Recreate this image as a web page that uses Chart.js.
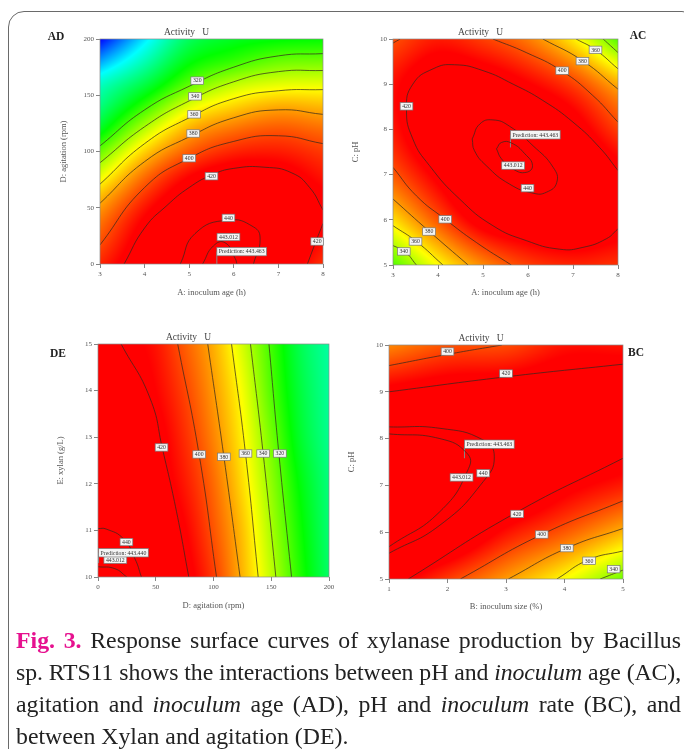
<!DOCTYPE html>
<html><head><meta charset="utf-8">
<style>
html,body{margin:0;padding:0;background:#fff;width:684px;height:749px;overflow:hidden;position:relative;font-family:"Liberation Serif",serif}
#frame{position:absolute;left:8px;top:11px;width:690px;height:770px;border:1.2px solid #6a6a6a;border-radius:16px;box-sizing:border-box}
canvas{position:absolute;filter:blur(.45px)}
.tag{position:absolute;font:bold 11.5px "Liberation Serif",serif;color:#222;transform:translate(-50%,-50%);filter:blur(.3px)}
#cap{position:absolute;left:16px;top:623.5px;width:665px;font-size:23.8px;line-height:32px;color:#222}
#cap div{text-align:justify;text-align-last:justify;white-space:nowrap;filter:blur(.25px)}
#cap div.last{text-align-last:left}
#cap b{color:#e6118f}
</style></head><body>
<div id="frame"></div>
<div id="cap">
<div><b>Fig. 3.</b> Response surface curves of xylanase production by Bacillus</div>
<div style="letter-spacing:-.1px">sp. RTS11 shows the interactions between pH and <i>inoculum</i> age (AC),</div>
<div>agitation and <i>inoculum</i> age (AD), pH and <i>inoculum</i> rate (BC), and</div>
<div class="last">between Xylan and agitation (DE).</div>
</div>
<script src="https://cdn.jsdelivr.net/npm/chart.js@4"></script>
<script>
/* ---------- AD ---------- */
const adX=[3,4,5,6,7,8];
const adY=[0,20,40,60,80,100,120,140,160,180,200];
const adValues=[
[408,428,441,442,428,405],
[398,424,440,443,433,413],
[388,417,436,440,433,421],
[373,405,427,436,429,418],
[351,389,414,424,422,411],
[326,368,395,408,410,403],
[298,343,376,390,396,391],
[278,316,352,368,377,374],
[262,290,324,344,352,353],
[232,266,302,316,327,329],
[200,245,285,298,303,305]];
const adContours=[
[[3,105],[4,137],[5,158],[6,175],[7,185],[8,187]],
[[3,90],[4,122],[5,145],[6,162],[7,171],[8,172]],
[[3,71],[4,107],[5,130],[6,147],[7,154],[8,155]],
[[3,54],[4,91],[5,113],[6,130],[7,137],[8,133]],
[[3,17],[4,68],[5,94],[6,109],[7,114],[8,107]],
[[3.54,0],[4,32],[4.5,52],[5,68],[5.5,79],[6,85],[6.7,86],[7.3,81],[7.7,68],[8,48]],
[[7.65,0],[7.85,21],[8,36]],
[[4.8,0],[5.13,27],[5.86,39],[6.44,33],[6.59,22],[6.44,0]],
[[5.3,0],[5.54,16],[5.8,19],[6.03,5],[6.07,0]]];
const adLabels=[[5.18,163,"320"],[5.13,149,"340"],[5.11,133,"360"],[5.09,116,"380"],[5,94,"400"],[5.5,78,"420"],[5.88,41,"440"],[5.88,24,"443.012"],[7.87,20,"420"]];
const adPrediction=[5.62,0,11,"Prediction: 443.463"];
/* ---------- AC ---------- */
const acX=[3,4,5,6,7,8];
const acY=[5,6,7,8,9,10];
const acValues=[
[322,358,385,402,408,405],
[365,397,423,430,432,423],
[396,420,440,441,434,421],
[411,434,441,437,424,402],
[413,429,427,417,402,377],
[398,410,402,388,362,322]];
const acContours=[
[[3,5.43],[3.26,5.3],[3.52,5]],
[[3,5.87],[3.52,5.52],[4.11,5]],
[[3,6.46],[3.81,5.74],[4.67,5]],
[[3,7.16],[3.52,6.53],[4.15,6.02],[4.85,5.5],[5.63,5]],
[[8,5.8],[7.74,5.58],[7.22,5.39],[6.7,5.35],[5.96,5.54],[5.22,5.87],[4.48,6.46],[3.81,7.2],[3.44,7.79],[3.3,8.45],[3.44,9],[3.89,9.34],[4.37,9.43],[5,9.3],[5.67,9],[6.33,8.64],[7,8.16],[7.59,7.6],[8,7.09]],
[[5.22,10],[5.96,9.7],[6.74,9.3],[7.44,8.75],[8,8.16]],
[[6.33,10],[7.21,9.52],[8,8.89]],
[[7.07,10],[7.5,9.76],[8,9.34]],
[[7.67,10],[8,9.7]],
[[3,9.91],[3.16,10]],
[[4.76,7.79],[4.93,8.12],[5.22,8.21],[5.59,8.07],[6.11,7.64],[6.56,7.16],[6.64,6.83],[6.41,6.61],[6.11,6.59],[5.59,6.79],[5.07,7.2],[4.81,7.53],[4.76,7.79]],
[[5.3,7.57],[5.41,7.71],[5.63,7.7],[5.93,7.46],[6.1,7.2],[5.96,7.05],[5.67,7.12],[5.41,7.35],[5.3,7.57]]];
const acLabels=[[3.24,5.3,"340"],[3.5,5.52,"360"],[3.8,5.74,"380"],[4.16,6.01,"400"],[3.3,8.51,"420"],[7.5,9.76,"360"],[7.21,9.51,"380"],[6.76,9.3,"400"],[5.67,7.2,"443.012"],[5.99,6.7,"440"]];
const acPrediction=[5.61,7.6,7.88,"Prediction: 443.463"];
/* ---------- DE ---------- */
const deX=[0,25,50,75,100,125,150,175,200];
const deY=[10,11,12,13,14,15];
const deValues=[
[444,443,434,422,403,375,345,312,283],
[440,437,429,417,397,372,340,308,280],
[434,430,423,411,392,366,335,303,278],
[431,427,421,406,386,361,329,296,274],
[429,425,416,401,381,356,322,292,272],
[425,419,412,395,376,349,318,288,270]];
const deContours=[
[[0,11.04],[7,11.03],[22,10.82],[32,10.39],[37.6,10]],
[[0,10.22],[14.5,10.18],[25,10]],
[[20,15],[45,13.84],[56,12.73],[68,11.4],[78.6,10]],
[[69,15],[87.6,12.62],[102.6,10]],
[[95,15],[109,12.58],[123,10]],
[[115.6,15],[127.7,12.65],[138.7,10]],
[[132,15],[143,12.65],[154,10]],
[[148,15],[156.6,12.65],[167.6,10]]];
const deLabels=[[55,12.78,"420"],[87.6,12.63,"400"],[109,12.58,"380"],[127.7,12.65,"360"],[143,12.65,"340"],[157.5,12.65,"320"],[24.6,10.75,"440"],[15,10.37,"443.012"]];
const dePrediction=[0.5,10.3,10.52,"Prediction: 443.440"];
/* ---------- BC ---------- */
const bcX=[1,2,3,4,5];
const bcY=[5,6,7,8,9,10];
const bcValues=[
[425,403,381,358,328],
[444,436,413,396,375],
[445,446,437,421,410],
[443,442,438,434,427],
[420,425,426,428,428],
[385,397,399,412,412]];
const bcContours=[
[[1,9.56],[2,9.8],[2.93,10]],
[[1,9],[3,9.32],[5,9.59]],
[[1,8.25],[1.87,8.22],[2.61,7.97],[2.8,7.61],[2.61,7.08],[1.87,6.15],[1,5.55]],
[[1,8.1],[1.87,8],[2.33,7.69],[2.36,7.36],[1.87,6.44],[1,5.69]],
[[1.33,5],[3.13,6.39],[5,7.58]],
[[2.22,5],[3.61,5.95],[5,6.67]],
[[3.04,5],[4.04,5.66],[5,6.08]],
[[3.87,5],[4.41,5.41],[5,5.6]],
[[4.61,5],[5,5.19]]];
const bcLabels=[[2,9.86,"400"],[3,9.39,"420"],[2.61,7.26,"440"],[2.24,7.17,"443.012"],[3.19,6.39,"420"],[3.61,5.95,"400"],[4.04,5.66,"380"],[4.42,5.39,"360"],[4.84,5.21,"340"]];
const bcPrediction=[2.29,7.58,7.88,"Prediction: 443.463"];

const titleText="Activity   U";
const panels=[
 {tag:"AD",tx:56,ty:36,L:100,R:323,T:39,B:264,xt:"A: inoculum age (h)",yt:"D: agitation (rpm)",xs:1,ys:50,X:adX,Y:adY,V:adValues,C:adContours,Lb:adLabels,P:adPrediction,ytx:64,xty:293},
 {tag:"AC",tx:638,ty:35,L:393,R:618,T:39,B:265,xt:"A: inoculum age (h)",yt:"C: pH",xs:1,ys:1,X:acX,Y:acY,V:acValues,C:acContours,Lb:acLabels,P:acPrediction,ytx:356,xty:293},
 {tag:"DE",tx:58,ty:353,L:98,R:329,T:344,B:577,xt:"D: agitation (rpm)",yt:"E: xylan (g/L)",xs:50,ys:1,X:deX,Y:deY,V:deValues,C:deContours,Lb:deLabels,P:dePrediction,ytx:61,xty:606},
 {tag:"BC",tx:636,ty:352,L:389,R:623,T:345,B:579,xt:"B: inoculum size (%)",yt:"C: pH",xs:1,ys:1,X:bcX,Y:bcY,V:bcValues,C:bcContours,Lb:bcLabels,P:bcPrediction,ytx:352,xty:607}
];
const stops=[[200,0,0,255],[250,0,255,255],[305,0,255,0],[358,255,255,0],[416,255,0,0]];
function colour(v){
 if(v<=stops[0][0])return stops[0].slice(1);
 for(let i=1;i<stops.length;i++){
  if(v<=stops[i][0]){const a=stops[i-1],b=stops[i],t=(v-a[0])/(b[0]-a[0]);
   return [a[1]+(b[1]-a[1])*t,a[2]+(b[2]-a[2])*t,a[3]+(b[3]-a[3])*t];}
 }
 return stops[stops.length-1].slice(1);
}
function cr(p0,p1,p2,p3,t){return p1+.5*t*(p2-p0+t*(2*p0-5*p1+4*p2-p3+t*(3*(p1-p2)+p3-p0)));}
function sampler(g){
 const nr=g.length,nc=g[0].length;
 const col=(r,j)=>{ if(j<0)return 2*r[0]-r[1]; if(j>=nc)return 2*r[nc-1]-r[nc-2]; return r[j]; };
 const atRow=(i,j,t)=>cr(col(g[i],j-1),col(g[i],j),col(g[i],j+1),col(g[i],j+2),t);
 return (u,v)=>{
  const j=Math.min(nc-2,Math.max(0,Math.floor(u))),i=Math.min(nr-2,Math.max(0,Math.floor(v)));
  const tu=u-j,tv=v-i;
  const r1=atRow(i,j,tu),r2=atRow(i+1,j,tu);
  const r0=i>0?atRow(i-1,j,tu):2*r1-r2;
  const r3=i+2<nr?atRow(i+2,j,tu):2*r2-r1;
  return cr(r0,r1,r2,r3,tv);
 };
}
function indexOf(axis,val){
 for(let k=0;k<axis.length-1;k++){
  if(val<=axis[k+1]||k===axis.length-2)return k+(val-axis[k])/(axis[k+1]-axis[k]);
 }
 return 0;
}
function box(ctx,xp,yp,text,leftAligned){
 ctx.font='5.8px "Liberation Serif",serif';
 const w=ctx.measureText(text).width+4,h=leftAligned?8.4:7.4;
 const x=leftAligned?xp:xp-w/2,y=yp-h/2;
 ctx.fillStyle='#f4f4f4';ctx.strokeStyle='#777';ctx.lineWidth=.7;
 ctx.fillRect(x,y,w,h);ctx.strokeRect(x,y,w,h);
 ctx.fillStyle='#333';ctx.textAlign='left';ctx.textBaseline='middle';
 ctx.fillText(text,x+2,yp+.3);
}
panels.forEach(p=>{
 const tag=document.createElement('div');tag.className='tag';tag.textContent=p.tag;tag.style.left=p.tx+'px';tag.style.top=p.ty+'px';document.body.appendChild(tag);
 const cx=p.L-50,cy=p.T-20,cw=p.R-p.L+50+14,ch=p.B-p.T+20+42;
 const cv=document.createElement('canvas');cv.width=cw;cv.height=ch;cv.style.left=cx+'px';cv.style.top=cy+'px';cv.style.width=cw+'px';cv.style.height=ch+'px';document.body.appendChild(cv);
 const surfacePoints=[];
 p.Y.forEach((y,i)=>p.X.forEach((x,j)=>surfacePoints.push({x,y,v:p.V[i][j]})));
 const datasets=[{label:'Activity U',data:surfacePoints,pointRadius:0,showLine:false}];
 p.C.forEach(c=>datasets.push({label:'contour',data:c.map(q=>({x:q[0],y:q[1]})),showLine:true,pointRadius:0,borderColor:'rgba(50,40,30,.8)',borderWidth:.9,tension:.5,fill:false}));
 datasets.push({label:'prediction flag',data:[{x:p.P[0],y:p.P[1]},{x:p.P[0],y:p.P[2]}],showLine:true,pointRadius:0,borderColor:'#8a8a8a',borderWidth:1,tension:0});
 const sample=sampler(p.V);
 const surface={id:'surface',
  beforeDatasetsDraw(chart){
   const a=chart.chartArea,xs=chart.scales.x,ys=chart.scales.y,ctx=chart.ctx;
   const W=Math.round(a.right-a.left),H=Math.round(a.bottom-a.top);
   const off=document.createElement('canvas');off.width=W;off.height=H;
   const oc=off.getContext('2d'),im=oc.createImageData(W,H);
   for(let py=0;py<H;py++){
    const v=indexOf(p.Y,ys.getValueForPixel(a.top+py+.5));
    for(let px=0;px<W;px++){
     const u=indexOf(p.X,xs.getValueForPixel(a.left+px+.5));
     const c=colour(sample(u,v)),k=(py*W+px)*4;
     im.data[k]=c[0];im.data[k+1]=c[1];im.data[k+2]=c[2];im.data[k+3]=255;
    }
   }
   oc.putImageData(im,0,0);
   ctx.drawImage(off,a.left,a.top);
  },
  afterDatasetsDraw(chart){
   const a=chart.chartArea,xs=chart.scales.x,ys=chart.scales.y,ctx=chart.ctx;
   ctx.save();
   ctx.strokeStyle='#8a8a8a';ctx.lineWidth=.7;ctx.strokeRect(a.left,a.top,a.right-a.left,a.bottom-a.top);
   p.Lb.forEach(l=>box(ctx,xs.getPixelForValue(l[0]),ys.getPixelForValue(l[1]),l[2],false));
   box(ctx,xs.getPixelForValue(p.P[0]),ys.getPixelForValue(p.P[2]),p.P[3],true);
   ctx.restore();
  }};
 const tickFont={family:'"Liberation Serif",serif',size:7};
 const axisFont={family:'"Liberation Serif",serif',size:8.5};
 const lh=axisFont.size*1.2;
 new Chart(cv,{type:'scatter',data:{datasets},plugins:[surface],options:{
  responsive:false,animation:false,devicePixelRatio:1,
  layout:{autoPadding:false,padding:{top:0,left:0,bottom:0,right:14}},
  plugins:{legend:{display:false},tooltip:{enabled:false},
   title:{display:true,text:titleText,color:'#444',font:{family:'"Liberation Serif",serif',size:9.5,weight:'normal'},padding:{top:7.3,bottom:1.3}}},
  scales:{
   x:{type:'linear',min:p.X[0],max:p.X[p.X.length-1],
      afterFit(s){s.height=42;},
      border:{display:false},
      grid:{drawOnChartArea:false,drawTicks:true,tickLength:4,color:'#666',lineWidth:.8},
      ticks:{stepSize:p.xs,font:tickFont,color:'#555',padding:2,maxRotation:0,autoSkip:false},
      title:{display:true,text:p.xt,color:'#555',font:axisFont,padding:{top:0,bottom:(cy+ch)-p.xty-lh/2}}},
   y:{type:'linear',min:p.Y[0],max:p.Y[p.Y.length-1],
      afterFit(s){s.width=50;},
      border:{display:false},
      grid:{drawOnChartArea:false,drawTicks:true,tickLength:4,color:'#666',lineWidth:.8},
      ticks:{stepSize:p.ys,font:tickFont,color:'#555',padding:2,autoSkip:false},
      title:{display:true,text:p.yt,color:'#555',font:axisFont,padding:{top:p.ytx-cx-lh/2,bottom:0}}}
  }}});
});
</script>
</body></html>
